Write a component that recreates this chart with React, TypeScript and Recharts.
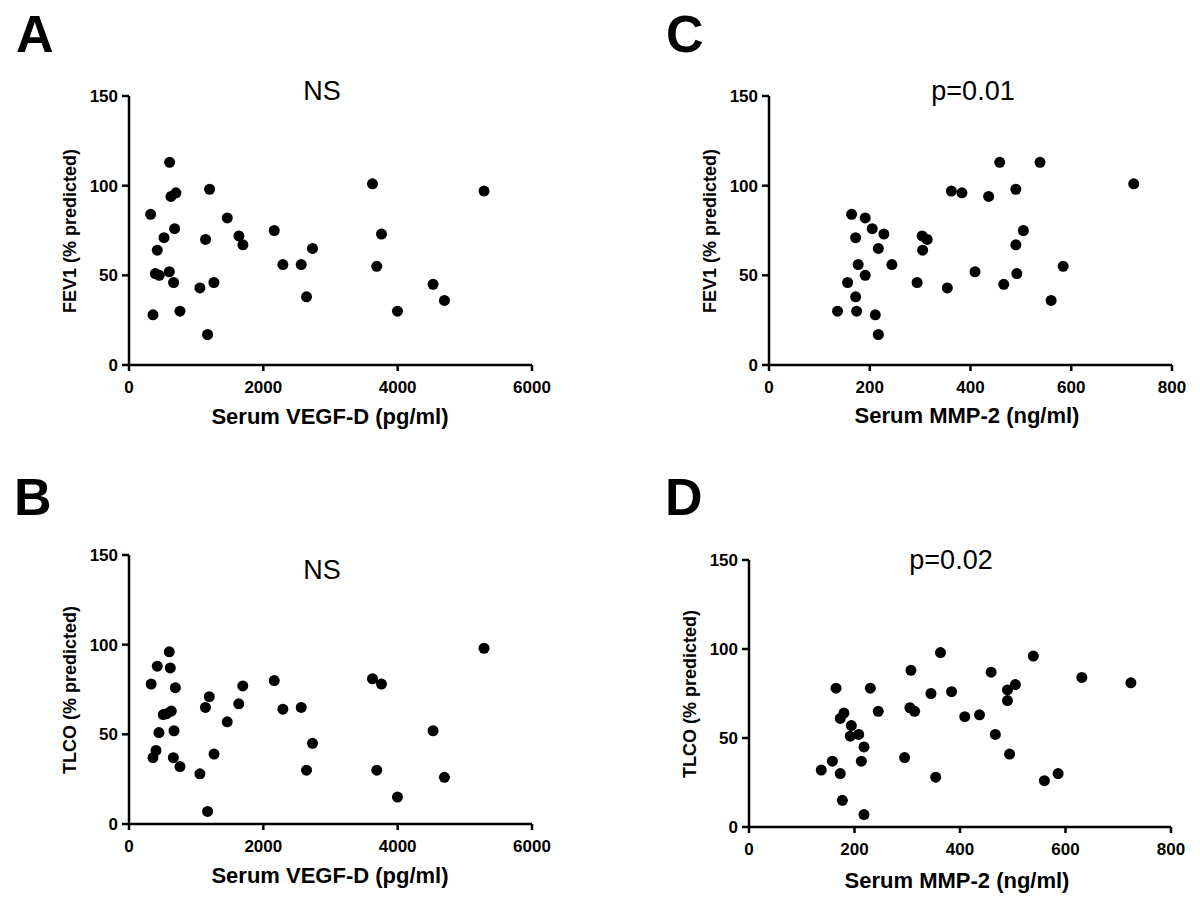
import React from 'react';
import { ScatterChart, Scatter, XAxis, YAxis } from 'recharts';

const FONT = '"Liberation Sans", Arial, Helvetica, sans-serif';

// Panel A: Serum VEGF-D (pg/ml) vs FEV1 (% predicted)
const vegfA = [322, 357, 605, 625, 699, 679, 521, 421, 392, 451, 600, 664, 759, 1200, 1140, 1056, 1264, 1170, 1463, 1636, 1696, 2162, 2291, 2564, 2643, 2732, 3625, 3759, 3689, 3997, 4527, 4696, 5286];
const fev1A = [84, 28, 113, 94, 96, 76, 71, 64, 51, 50, 52, 46, 30, 98, 70, 43, 46, 17, 82, 72, 67, 75, 56, 56, 38, 65, 101, 73, 55, 30, 45, 36, 97];

// Panel B: Serum VEGF-D (pg/ml) vs TLCO (% predicted)
const vegfB = [330, 357, 402, 421, 446, 510, 560, 630, 600, 615, 690, 670, 660, 759, 1056, 1138, 1195, 1266, 1170, 1462, 1634, 1694, 2162, 2291, 2564, 2643, 2732, 3625, 3759, 3689, 3997, 4527, 4696, 5286];
const tlcoB = [78, 37, 41, 88, 51, 61, 61.5, 63, 96, 87, 76, 52, 37, 32, 28, 65, 71, 39, 7, 57, 67, 77, 80, 64, 65, 30, 45, 81, 78, 30, 15, 52, 26, 98];

// Panel C: Serum MMP-2 (ng/ml) vs FEV1 (% predicted)
const mmpC = [136, 156, 164, 172, 172, 174, 177, 191, 191, 205, 211, 217, 217, 228, 244, 294, 304, 314, 305, 354, 362, 383, 409, 436, 458, 466, 490, 490, 505, 492, 538, 560, 584, 724];
const fev1C = [30, 46, 84, 71, 38, 30, 56, 82, 50, 76, 28, 65, 17, 73, 56, 46, 72, 70, 64, 43, 97, 96, 52, 94, 113, 45, 98, 67, 75, 51, 113, 36, 55, 101];

// Panel D: Serum MMP-2 (ng/ml) vs TLCO (% predicted)
const mmpD = [137, 158, 165, 173, 180, 173, 177, 194, 192, 208, 213, 218, 218, 230, 245, 295, 307, 305, 314, 345, 354, 363, 384, 409, 437, 459, 467, 490, 490, 505, 494, 539, 560, 586, 631, 724];
const tlcoD = [32, 37, 78, 61, 64, 30, 15, 57, 51, 52, 37, 45, 7, 78, 65, 39, 88, 67, 65, 75, 28, 98, 76, 62, 63, 87, 52, 77, 71, 80, 41, 96, 26, 30, 84, 81];

const vegfTicks = [0, 2000, 4000, 6000];
const mmpTicks = [0, 200, 400, 600, 800];
const yTicks = [0, 50, 100, 150];

const TICK_FS = 17;

const Dot = (props: any) => {
  const { cx, cy } = props;
  if (cx == null || cy == null) return null;
  return <circle cx={cx} cy={cy} r={5.5} fill="#000" />;
};

const XTick = (props: any) => {
  const { x, y, payload } = props;
  return (
    <text x={x} y={y + TICK_FS * 0.72} textAnchor="middle" fill="#000" fontSize={TICK_FS} fontWeight={700} fontFamily={FONT}>
      {payload.value}
    </text>
  );
};

const YTick = (props: any) => {
  const { x, y, payload } = props;
  return (
    <text x={x} y={y + TICK_FS * 0.36} textAnchor="end" fill="#000" fontSize={TICK_FS} fontWeight={700} fontFamily={FONT}>
      {payload.value}
    </text>
  );
};

const Y_W = 60;
const X_H = 40;
const BOX_W = 600;
const BOX_H = 456;

type Rect = { L: number; R: number; T: number; B: number };

function Panel(props: { bx: number; by: number; plot: Rect; xs: number[]; ys: number[]; xMax: number; xTicks: number[] }) {
  const { bx, by, plot, xs, ys, xMax, xTicks } = props;
  const data = xs.map((x, i) => ({ x, y: ys[i] }));
  const margin = {
    top: plot.T - by,
    left: plot.L - bx - Y_W,
    right: bx + BOX_W - plot.R,
    bottom: by + BOX_H - plot.B - X_H,
  };
  const lineStyle = { stroke: '#000', strokeWidth: 2.5 };
  return (
    <div style={{ position: 'absolute', left: bx, top: by, width: BOX_W, height: BOX_H }}>
      <ScatterChart width={BOX_W} height={BOX_H} margin={margin}>
        <XAxis
          type="number"
          dataKey="x"
          domain={[0, xMax]}
          ticks={xTicks}
          interval={0}
          allowDataOverflow
          height={X_H}
          tickSize={6}
          tickMargin={10}
          axisLine={lineStyle}
          tickLine={lineStyle}
          tick={<XTick />}
        />
        <YAxis
          type="number"
          dataKey="y"
          domain={[0, 150]}
          ticks={yTicks}
          interval={0}
          allowDataOverflow
          width={Y_W}
          tickSize={7}
          tickMargin={4}
          axisLine={lineStyle}
          tickLine={lineStyle}
          tick={<YTick />}
        />
        <Scatter data={data} shape={<Dot />} fill="#000" isAnimationActive={false} />
      </ScatterChart>
    </div>
  );
}

export default function App() {
  return (
    <div style={{ position: 'absolute', left: 0, top: 0, width: 1200, height: 912, background: '#fff', fontFamily: FONT }}>
      <Panel bx={0} by={0} plot={{ L: 129, R: 532, T: 96, B: 365 }} xs={vegfA} ys={fev1A} xMax={6000} xTicks={vegfTicks} />
      <Panel bx={0} by={456} plot={{ L: 129, R: 532, T: 555, B: 824 }} xs={vegfB} ys={tlcoB} xMax={6000} xTicks={vegfTicks} />
      <Panel bx={600} by={0} plot={{ L: 769, R: 1172, T: 96, B: 365 }} xs={mmpC} ys={fev1C} xMax={800} xTicks={mmpTicks} />
      <Panel bx={600} by={456} plot={{ L: 749, R: 1171, T: 560, B: 827 }} xs={mmpD} ys={tlcoD} xMax={800} xTicks={mmpTicks} />
      <svg width={1200} height={912} style={{ position: 'absolute', left: 0, top: 0, pointerEvents: 'none' }}>
        <g fontFamily={FONT} fill="#000">
          <text x={16} y={52} fontSize={52} fontWeight={700}>A</text>
          <text x={14} y={515} fontSize={52} fontWeight={700}>B</text>
          <text x={666} y={52} fontSize={52} fontWeight={700}>C</text>
          <text x={665} y={515} fontSize={52} fontWeight={700}>D</text>

          <text x={322} y={100} fontSize={27} textAnchor="middle">NS</text>
          <text x={322} y={579} fontSize={27} textAnchor="middle">NS</text>
          <text x={973} y={100} fontSize={27} textAnchor="middle">p=0.01</text>
          <text x={951} y={569} fontSize={27} textAnchor="middle">p=0.02</text>

          <text x={330} y={424} fontSize={22} fontWeight={700} textAnchor="middle">Serum VEGF-D (pg/ml)</text>
          <text x={330} y={883} fontSize={22} fontWeight={700} textAnchor="middle">Serum VEGF-D (pg/ml)</text>
          <text x={967} y={423} fontSize={22} fontWeight={700} textAnchor="middle">Serum MMP-2 (ng/ml)</text>
          <text x={957} y={888} fontSize={22} fontWeight={700} textAnchor="middle">Serum MMP-2 (ng/ml)</text>

          <text transform="translate(76,231) rotate(-90)" fontSize={18} fontWeight={700} textAnchor="middle">FEV1 (% predicted)</text>
          <text transform="translate(76,690) rotate(-90)" fontSize={18} fontWeight={700} textAnchor="middle">TLCO (% predicted)</text>
          <text transform="translate(716,231) rotate(-90)" fontSize={18} fontWeight={700} textAnchor="middle">FEV1 (% predicted)</text>
          <text transform="translate(696,694) rotate(-90)" fontSize={18} fontWeight={700} textAnchor="middle">TLCO (% predicted)</text>
        </g>
      </svg>
    </div>
  );
}
